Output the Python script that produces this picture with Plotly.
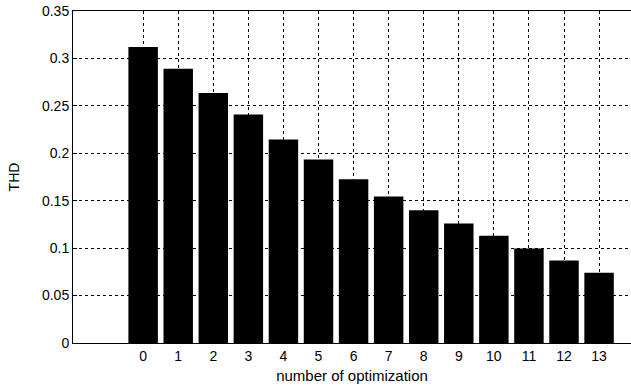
import plotly.graph_objects as go

categories = list(range(14))
thd_values = [0.312, 0.289, 0.2635, 0.241, 0.2145, 0.1935, 0.1726, 0.1545, 0.140, 0.126, 0.113, 0.0995, 0.087, 0.074]
y_ticks = [0, 0.05, 0.1, 0.15, 0.2, 0.25, 0.3, 0.35]
y_tick_text = ["0", "0.05", "0.1", "0.15", "0.2", "0.25", "0.3", "0.35"]

family = "Liberation Sans, Arial, sans-serif"
tick_font = dict(family=family, size=14, color="black")
title_font = dict(family=family, size=14, color="black")

fig = go.Figure()
fig.add_trace(go.Bar(
    x=categories, y=thd_values,
    marker=dict(color="black", line=dict(width=0)),
    width=0.84,
))

fig.update_layout(
    width=631, height=389,
    margin=dict(l=73, r=0, t=11, b=46),
    paper_bgcolor="white", plot_bgcolor="white",
    font=tick_font, showlegend=False,
    xaxis=dict(
        range=[-2, 13.91], tickvals=categories, ticktext=[str(c) for c in categories],
        showgrid=True, gridcolor="black", griddash="3px,3px", gridwidth=1,
        showline=True, linecolor="black", linewidth=1, mirror=True,
        ticks="inside", ticklen=4, tickcolor="black",
        zeroline=False,
        title=dict(text="number of optimization", standoff=7, font=dict(family=family, size=15, color="black")),
        tickfont=tick_font,
    ),
    yaxis=dict(
        range=[0, 0.35], tickvals=y_ticks, ticktext=y_tick_text,
        showgrid=True, gridcolor="black", griddash="3px,3px", gridwidth=1,
        showline=True, linecolor="black", linewidth=1,
        ticks="inside", ticklen=4, tickcolor="black",
        zeroline=False,
        title=dict(text="THD", standoff=19, font=title_font),
        tickfont=tick_font,
    ),
)

fig.write_html(
    "out.html",
    config={"displayModeBar": False},
    post_script="document.body.style.margin='0';document.body.style.overflow='hidden';",
)
